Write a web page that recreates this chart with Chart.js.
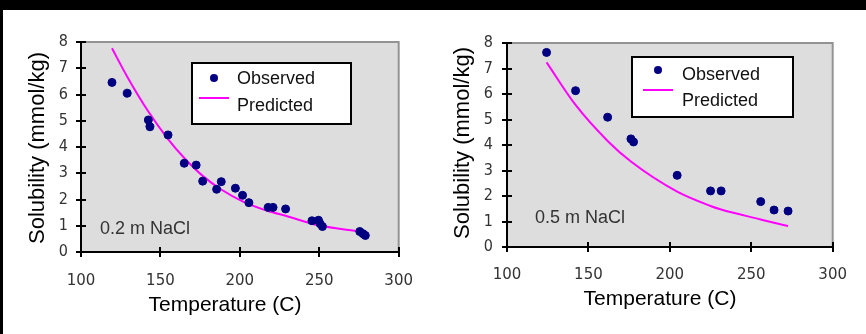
<!DOCTYPE html>
<html>
<head>
<meta charset="utf-8">
<script src="https://cdn.jsdelivr.net/npm/chart.js@4.4.1/dist/chart.umd.min.js"></script>
<style>
  body { margin: 0; background: #fff; width: 866px; height: 334px; overflow: hidden; position: relative; }
  .topbar { position: absolute; left: 0; top: 0; width: 866px; height: 10px; background: #000; z-index: 2; }
  .leftbar { position: absolute; left: 0; top: 0; width: 3px; height: 334px; background: #000; z-index: 2; }
  .box { position: absolute; top: 0; width: 433px; height: 334px; }
</style>
</head>
<body>
<div class="box" style="left:0"><canvas id="c1" width="433" height="334"></canvas></div>
<div class="box" style="left:433px"><canvas id="c2" width="433" height="334"></canvas></div>
<div class="topbar"></div>
<div class="leftbar"></div>
<script>
// ---- data: 0.2 m NaCl ----
const tempObsA = [119.5, 129.1, 142.4, 143.4, 154.8, 165.0, 172.5, 176.6, 185.4, 188.3, 197.2, 201.7, 205.7, 217.8, 220.9, 228.8, 245.4, 249.5, 250.5, 252.0, 275.5, 277.5, 279.0];
const solObsA  = [6.46, 6.05, 5.03, 4.77, 4.46, 3.38, 3.31, 2.70, 2.39, 2.68, 2.43, 2.16, 1.88, 1.70, 1.70, 1.64, 1.19, 1.21, 1.08, 0.97, 0.78, 0.70, 0.63];
const tempPredA = [119.5, 129.1, 142.4, 154.8, 165.0, 176.6, 188.3, 201.7, 217.8, 228.8, 249.5, 275.9];
const solPredA  = [7.76, 6.68, 5.35, 4.30, 3.58, 2.90, 2.38, 1.93, 1.56, 1.38, 1.02, 0.78];

// ---- data: 0.5 m NaCl ----
const tempObsB = [124.3, 142.1, 161.8, 176.1, 177.7, 204.5, 225.0, 231.5, 255.8, 264.0, 272.6];
const solObsB  = [7.63, 6.13, 5.09, 4.24, 4.12, 2.81, 2.20, 2.20, 1.78, 1.45, 1.41];
const tempPredB = [124.3, 142.1, 161.8, 176.1, 204.5, 225.0, 231.5, 255.8, 264.0, 272.6];
const solPredB  = [7.24, 5.57, 4.16, 3.35, 2.17, 1.61, 1.47, 1.08, 0.95, 0.82];

const xTicks = [100, 150, 200, 250, 300];
const yTicks = [0, 1, 2, 3, 4, 5, 6, 7, 8];
const seriesNames = ['Observed', 'Predicted'];
const xTitle = 'Temperature (C)';
const yTitle = 'Solubility (mmol/kg)';

const NAVY = '#000080';
const MAGENTA = '#ff00ff';
const W = 433, H = 334;

function pts(xs, ys) { return xs.map((x, i) => ({ x: x, y: ys[i] })); }

// frame, tick crosses, titles, legend and salt label
const decor = {
  id: 'decor',
  beforeDraw(chart, args, o) {
    const a = chart.chartArea, ctx = chart.ctx;
    ctx.save();
    ctx.fillStyle = '#dddddd';
    ctx.fillRect(a.left, a.top, a.right - a.left, a.bottom - a.top);
    ctx.restore();
  },
  afterDraw(chart, args, o) {
    const a = chart.chartArea, ctx = chart.ctx;
    const xs = chart.scales.x, ys = chart.scales.y;
    ctx.save();
    // gray top/right frame
    ctx.strokeStyle = '#939393';
    ctx.lineWidth = 2;
    ctx.beginPath();
    ctx.moveTo(a.left, a.top); ctx.lineTo(a.right, a.top); ctx.lineTo(a.right, a.bottom);
    ctx.stroke();
    // black axes
    ctx.strokeStyle = '#000';
    ctx.beginPath();
    ctx.moveTo(a.left, a.top - 1); ctx.lineTo(a.left, a.bottom + 1);
    ctx.moveTo(a.left - 1, a.bottom); ctx.lineTo(a.right + 1, a.bottom);
    ctx.stroke();
    ctx.beginPath();
    yTicks.forEach(v => {
      const py = Math.round(ys.getPixelForValue(v));
      ctx.moveTo(a.left - 5, py); ctx.lineTo(a.left + 5, py);
    });
    xTicks.forEach(v => {
      const px = Math.round(xs.getPixelForValue(v));
      ctx.moveTo(px, a.bottom - 5); ctx.lineTo(px, a.bottom + 5);
    });
    ctx.stroke();

    // axis titles
    ctx.fillStyle = '#000';
    ctx.textAlign = 'center';
    ctx.textBaseline = 'middle';
    ctx.font = '21px "Liberation Sans", Arial, sans-serif';
    ctx.fillText(xTitle, o.xTitle[0], o.xTitle[1]);
    ctx.save();
    ctx.translate(o.yTitle[0], o.yTitle[1]);
    ctx.rotate(-Math.PI / 2);
    ctx.font = '22px "Liberation Sans", Arial, sans-serif';
    ctx.fillText(yTitle, 0, 0);
    ctx.restore();

    // salt concentration label
    ctx.fillStyle = '#333';
    ctx.textAlign = 'left';
    ctx.font = '18px "Liberation Sans", Arial, sans-serif';
    ctx.fillText(o.note, o.notePos[0], o.notePos[1]);

    // legend
    const L = o.legend;
    ctx.fillStyle = '#fff';
    ctx.fillRect(L.box[0], L.box[1], L.box[2] - L.box[0], L.box[3] - L.box[1]);
    ctx.strokeStyle = '#000';
    ctx.lineWidth = 2;
    ctx.strokeRect(L.box[0], L.box[1], L.box[2] - L.box[0], L.box[3] - L.box[1]);
    ctx.fillStyle = NAVY;
    ctx.beginPath();
    ctx.arc(L.marker[0], L.marker[1], 4, 0, Math.PI * 2);
    ctx.fill();
    ctx.strokeStyle = MAGENTA;
    ctx.beginPath();
    ctx.moveTo(L.line[0], L.line[2]); ctx.lineTo(L.line[1], L.line[2]);
    ctx.stroke();
    ctx.fillStyle = '#111';
    ctx.font = '18px "Liberation Sans", Arial, sans-serif';
    ctx.fillText(seriesNames[0], L.textX, L.obsY);
    ctx.fillText(seriesNames[1], L.textX, L.predY);
    ctx.restore();
  }
};

function makeChart(id, obs, pred, area, extra) {
  return new Chart(document.getElementById(id), {
    type: 'scatter',
    data: {
      datasets: [
        {
          label: seriesNames[1],
          data: pred,
          showLine: true,
          borderColor: MAGENTA,
          borderWidth: 2,
          pointRadius: 0,
          cubicInterpolationMode: 'monotone',
          order: 2
        },
        {
          label: seriesNames[0],
          data: obs,
          backgroundColor: NAVY,
          borderColor: NAVY,
          pointRadius: 4,
          pointHoverRadius: 4,
          order: 1
        }
      ]
    },
    options: {
      responsive: false,
      animation: false,
      layout: { padding: { left: 0, top: area.top, right: W - area.right, bottom: 0 } },
      plugins: { legend: { display: false }, tooltip: { enabled: false }, decor: extra },
      scales: {
        x: {
          type: 'linear', min: 100, max: 300,
          afterBuildTicks: s => { s.ticks = xTicks.map(v => ({ value: v })); },
          afterFit: s => { s.height = H - area.bottom; },
          grid: { display: false, drawTicks: false },
          border: { display: false },
          ticks: { padding: area.xPad, color: '#333', font: { family: '"DejaVu Sans", sans-serif', size: 15 } }
        },
        y: {
          min: 0, max: 8,
          afterBuildTicks: s => { s.ticks = yTicks.map(v => ({ value: v })); },
          afterFit: s => { s.width = area.left; },
          grid: { display: false, drawTicks: false },
          border: { display: false },
          ticks: { padding: area.yPad, color: '#333', font: { family: '"DejaVu Sans Condensed", "Liberation Sans Narrow", sans-serif', size: 16 } }
        }
      }
    },
    plugins: [decor]
  });
}

makeChart('c1', pts(tempObsA, solObsA), pts(tempPredA, solPredA),
  { left: 81, top: 42, right: 402, bottom: 252, xPad: 20, yPad: 13 },
  {
    xTitle: [225, 305], yTitle: [38, 148],
    note: '0.2 m NaCl', notePos: [100, 229],
    legend: { box: [192, 63, 351, 124], marker: [214, 78], line: [199, 229, 98], textX: 237, obsY: 79, predY: 106 }
  });

makeChart('c2', pts(tempObsB, solObsB), pts(tempPredB, solPredB),
  { left: 74, top: 43, right: 400, bottom: 247, xPad: 19, yPad: 14 },
  {
    xTitle: [227, 299], yTitle: [30, 143],
    note: '0.5 m NaCl', notePos: [102, 218],
    legend: { box: [199, 57, 360, 117], marker: [225, 70], line: [210, 240, 90], textX: 249, obsY: 75, predY: 101 }
  });
</script>
</body>
</html>
